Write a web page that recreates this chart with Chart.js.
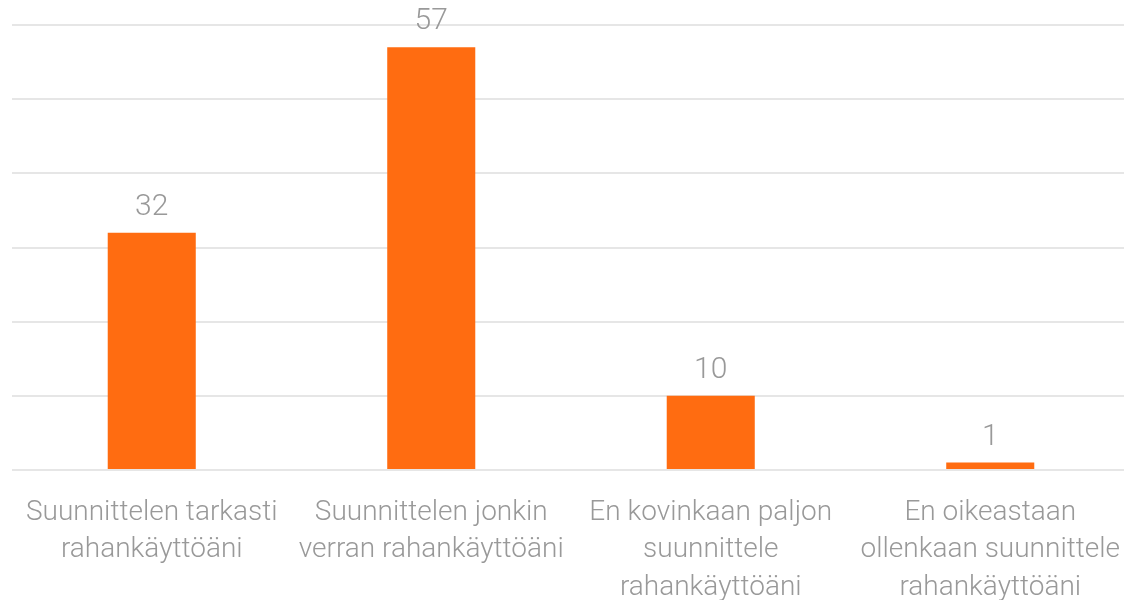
<!DOCTYPE html>
<html>
<head>
<meta charset="utf-8">
<script src="https://cdn.jsdelivr.net/npm/chart.js@4"></script>
<style>
  html, body { margin: 0; padding: 0; background: #fff; overflow: hidden; }
  #wrap { width: 1130px; height: 600px; position: relative; }
</style>
</head>
<body>
<div id="wrap"><canvas id="c"></canvas></div>
<script>
const CATEGORIES = [
  ['Suunnittelen tarkasti', 'rahankäyttöäni'],
  ['Suunnittelen jonkin', 'verran rahankäyttöäni'],
  ['En kovinkaan paljon', 'suunnittele', 'rahankäyttöäni'],
  ['En oikeastaan', 'ollenkaan suunnittele', 'rahankäyttöäni']
]
const VALUES = [32, 57, 10, 1]
const Y_MAX = 60
const Y_STEP = 10

const BAR = '#ff6c11'
const TXT = '#999999'
const GRID = '#e6e6e6'
const FONT = "Roboto, 'Open Sans', sans-serif"

// value labels above the bars
const valueLabels = {
  id: 'valueLabels',
  afterDatasetsDraw (chart) {
    const { ctx } = chart
    const meta = chart.getDatasetMeta(0)
    ctx.save()
    ctx.fillStyle = TXT
    ctx.font = '300 30px ' + FONT
    ctx.textAlign = 'center'
    ctx.textBaseline = 'alphabetic'
    meta.data.forEach((bar, i) => {
      ctx.fillText(String(VALUES[i]), bar.x, bar.y - 18)
    })
    ctx.restore()
  }
}

new Chart(document.getElementById('c'), {
  type: 'bar',
  data: {
    labels: CATEGORIES,
    datasets: [{ data: VALUES, backgroundColor: BAR, barPercentage: 0.315, categoryPercentage: 1 }]
  },
  options: {
    responsive: true, maintainAspectRatio: false, animation: false,
    layout: { padding: { top: 25, left: 12, right: 0, bottom: 0 } },
    plugins: { legend: { display: false }, tooltip: { enabled: false } },
    scales: {
      x: {
        afterFit (s) { s.height = 130; s.paddingLeft = 0; s.paddingRight = 0 },
        grid: { display: false },
        border: { display: false },
        ticks: { color: TXT, font: { size: 28, family: FONT, weight: '300', lineHeight: 1.34 }, padding: 16, maxRotation: 0, autoSkip: false }
      },
      y: {
        min: 0, max: Y_MAX,
        afterFit (s) { s.width = 0 },
        ticks: { display: false, stepSize: Y_STEP },
        grid: { color: GRID, lineWidth: 2, drawTicks: false },
        border: { display: false }
      }
    }
  },
  plugins: [valueLabels]
})
</script>
</body>
</html>
